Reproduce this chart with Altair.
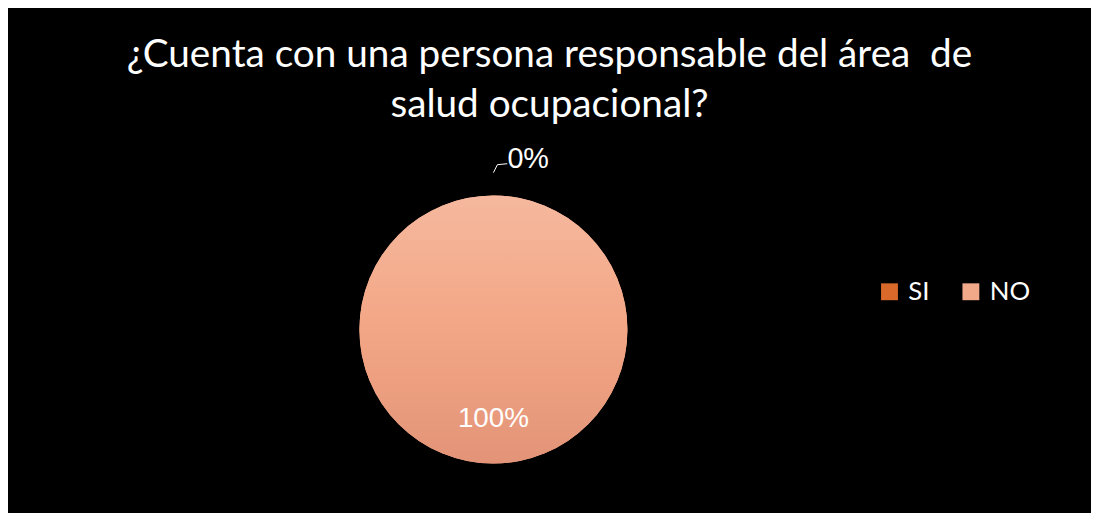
import altair as alt
import pandas as pd

categories = ["SI", "NO"]
values = [0, 100]
legend_colors = ["#D9692A", "#F2A98A"]
title_lines = ["¿Cuenta con una persona responsable del área \u00a0de", "salud ocupacional?"]

df = pd.DataFrame({"cat": categories, "val": values})
df["pct"] = (df["val"] / df["val"].sum() * 100).round(0).astype(int).astype(str) + "%"

CX, CY, R = 489, 198, 135

grad_no = {"gradient": "linear", "x1": 0, "y1": 0, "x2": 0, "y2": 1,
           "stops": [{"offset": 0, "color": "#F5B89E"}, {"offset": 0.5, "color": "#F3A685"}, {"offset": 1, "color": "#E39478"}]}
grad_si = {"gradient": "linear", "x1": 0, "y1": 0, "x2": 0, "y2": 1,
           "stops": [{"offset": 0, "color": "#E6793A"}, {"offset": 1, "color": "#C65A1C"}]}

base = alt.Chart(df)

theta = alt.Theta("val:Q", stack=True)
LABEL_FONT = "Liberation Sans"

legend_layer = base.mark_arc(outerRadius=R).encode(
    theta=theta,
    x=alt.value(CX), y=alt.value(CY),
    color=alt.Color("cat:N", sort=categories,
                    scale=alt.Scale(domain=categories, range=legend_colors),
                    legend=alt.Legend(title=None, orient="none", direction="horizontal",
                                      legendX=875, legendY=147, symbolType="square",
                                      symbolSize=289, symbolStrokeWidth=0,
                                      labelFontSize=26, labelFont="Lato", labelColor="white",
                                      labelOffset=6, columnPadding=28)),
    order=alt.Order("cat:N", sort="descending"),
)

grad_layer = base.mark_arc(outerRadius=R).encode(
    theta=theta,
    x=alt.value(CX), y=alt.value(CY),
    fill=alt.condition(alt.datum.cat == "NO", alt.value(grad_no), alt.value(grad_si)),
    order=alt.Order("cat:N", sort="descending"),
)

inside_labels = base.transform_filter(alt.datum.val > 0).mark_text(
    radius=90, fontSize=28, font=LABEL_FONT, color="white"
).encode(
    theta=theta, x=alt.value(CX), y=alt.value(CY), text="pct:N",
    order=alt.Order("cat:N", sort="descending"),
)

outside_labels = base.mark_text(
    radius=172, dx=35, fontSize=29, font=LABEL_FONT, color="white"
).encode(
    theta=theta, x=alt.value(CX), y=alt.value(CY), text="pct:N",
    order=alt.Order("cat:N", sort="descending"),
).transform_filter(alt.datum.val == 0)

leader1 = base.transform_filter(alt.datum.val == 0).mark_rule(color="white", strokeWidth=1).encode(
    x=alt.value(CX), y=alt.value(CY - 158), x2=alt.value(CX + 4), y2=alt.value(CY - 166))
leader2 = base.transform_filter(alt.datum.val == 0).mark_rule(color="white", strokeWidth=1).encode(
    x=alt.value(CX + 4), y=alt.value(CY - 166), x2=alt.value(CX + 14), y2=alt.value(CY - 167))

chart = alt.layer(legend_layer, grad_layer, inside_labels, outside_labels, leader1, leader2).properties(
    width=1091, height=381,
    background="black",
    padding={"top": 27, "bottom": 0, "left": 0, "right": 0},
    title=alt.TitleParams(text=title_lines, fontSize=39, font="Lato", fontWeight="normal",
                          color="white", lineHeight=50, anchor="middle", offset=8),
).configure_view(strokeWidth=0)

chart.save("out.html", embed_options={"renderer": "svg", "actions": False})
